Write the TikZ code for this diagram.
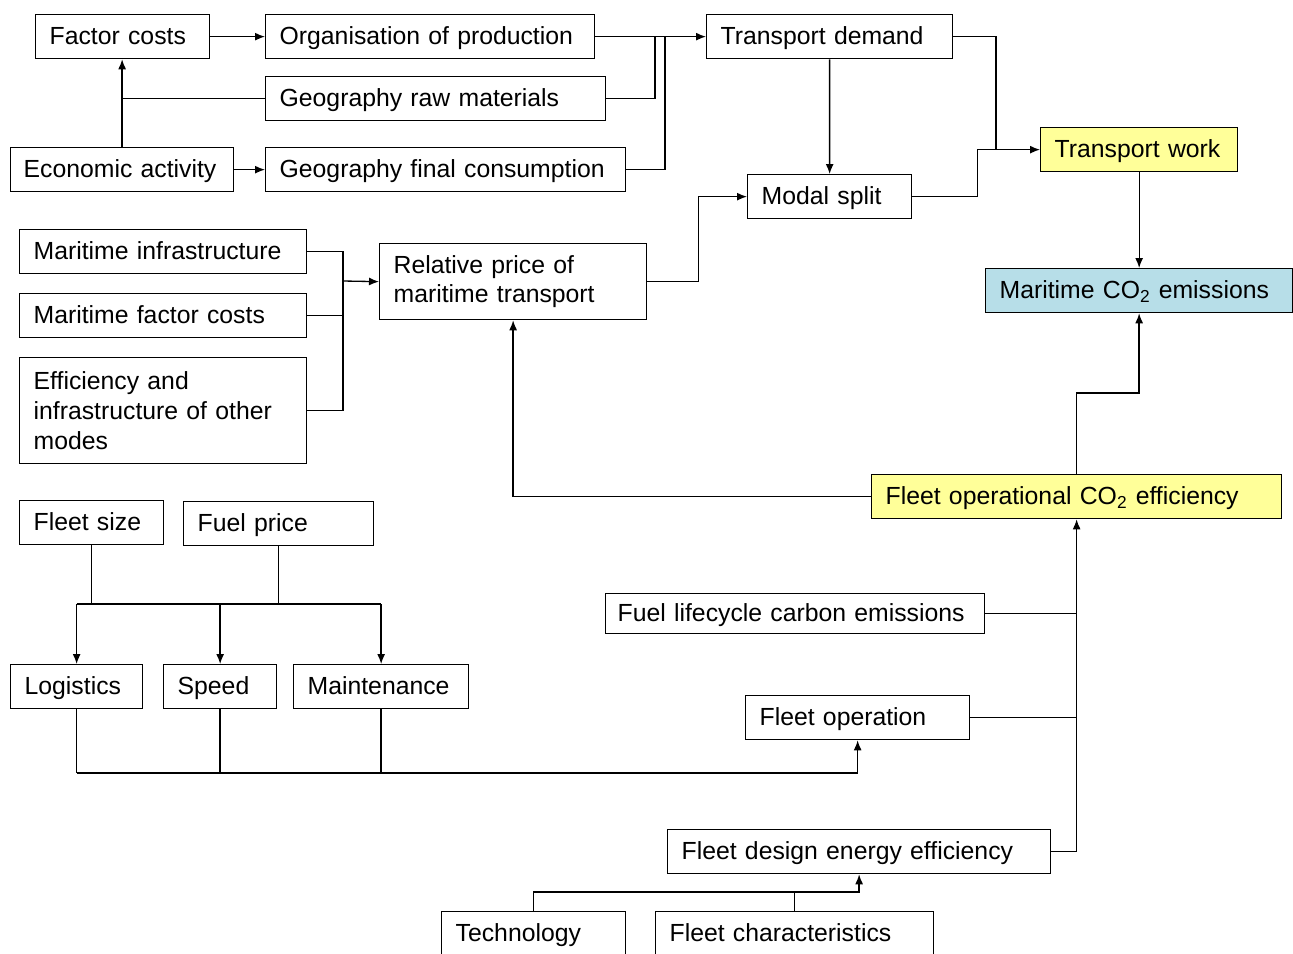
\documentclass[tikz,border=0pt]{standalone}
\usepackage{fontspec}
\setmainfont{Liberation Sans}
\usetikzlibrary{arrows.meta}
\definecolor{workyellow}{RGB}{255,255,153}
\definecolor{co2blue}{RGB}{183,222,232}
\hyphenpenalty=10000

\begin{document}
\begin{tikzpicture}[x=0.02cm,y=-0.02cm,>={Latex[length=2mm,width=1.6mm]},line width=0.75pt,
    box/.style={draw,anchor=north west,align=left,inner xsep=0.28cm,inner ysep=0pt,
      minimum height=0.88cm,text height=11.6pt,text depth=2.2pt,
      font=\fontsize{14.1pt}{17pt}\selectfont},
    multi/.style={text height={},text depth={}}]
  \useasboundingbox (0,0) rectangle (1293,953);
  % demand side
  \node[box,text width=2.92cm] (factor) at (35,14) {Factor costs};
  \node[box,text width=6.02cm] (org) at (265,14) {Organisation of production};
  \node[box,text width=6.24cm] (raw) at (265,76) {Geography raw materials};
  \node[box,text width=3.94cm,inner xsep=0.26cm] (econ) at (10,147) {Economic activity};
  \node[box,text width=6.64cm] (final) at (265,147) {Geography final consumption};
  \node[box,text width=4.36cm] (demand) at (706,14) {Transport demand};
  \node[box,fill=workyellow,text width=3.38cm] (work) at (1040,127) {Transport work};
  \node[box,text width=2.72cm] (modal) at (747,174) {Modal split};
  \node[box,fill=co2blue,text width=5.58cm] (mco2) at (985,268) {Maritime CO\textsubscript{2} emissions};
  % price side
  \node[box,text width=5.18cm] (infra) at (19,229) {Maritime infrastructure};
  \node[box,text width=5.18cm] (mfc) at (19,293) {Maritime factor costs};
  \node[box,multi,text width=5.18cm,minimum height=2.12cm] (eff) at (19,357)
        {Efficiency and\\infrastructure of other\\modes};
  \node[box,multi,text width=4.78cm,minimum height=1.52cm] (relprice) at (379,243)
        {Relative price of\\maritime transport};
  % efficiency side
  \node[box,fill=workyellow,text width=7.64cm] (fleetco2) at (871,474) {Fleet operational CO\textsubscript{2} efficiency};
  \node[box,text width=2.32cm] (fsize) at (19,500) {Fleet size};
  \node[box,text width=3.24cm] (fprice) at (183,501) {Fuel price};
  \node[box,text width=2.08cm] (logist) at (10,664) {Logistics};
  \node[box,text width=1.70cm] (speed) at (163,664) {Speed};
  \node[box,text width=2.94cm] (maint) at (293,664) {Maintenance};
  \node[box,text width=7.10cm,inner xsep=0.24cm,minimum height=0.8cm] (fuellc) at (605,593) {Fuel lifecycle carbon emissions};
  \node[box,text width=3.92cm] (fleetop) at (745,695) {Fleet operation};
  \node[box,text width=7.10cm] (design) at (667,829) {Fleet design energy efficiency};
  \node[box,text width=3.12cm] (tech) at (441,911) {Technology};
  \node[box,text width=5.00cm] (fchar) at (655,911) {Fleet characteristics};

  \coordinate (j1) at (655,36);
  \coordinate (j2) at (665,36);
  \coordinate (jw) at (996,149);
  \coordinate (jm) at (343,281);
  \coordinate (busA) at (0,604);
  \coordinate (busB) at (0,773);
  \coordinate (busC) at (0,892);

  \draw[->] (factor) -- (org);
  \draw[->] (econ) -- (final);
  \draw[->] (econ.north) -- (econ.north |- factor.south);
  \draw (raw.west) -- (raw.west -| econ.north);
  \draw[->] (org) -- (demand);
  \draw (raw.east) -| (j1);
  \draw (final.east) -| (j2);
  \draw[->] (demand) -- (modal);
  \draw (demand.east) -| (jw);
  \draw[->] (modal.east) -- ++(65,0) |- (work.west);
  \draw[->] (work.south) -- (work.south |- mco2.north);

  \draw (infra.east) -| (jm);
  \draw (mfc.east) -| (jm);
  \draw (eff.east) -| (jm);
  \draw[->] (jm) -- (relprice.west);
  \draw[->] (relprice.east) -- ++(51,0) |- (modal.west);

  \draw[->] (fleetco2.west) -| (relprice.south);
  \draw[->] (fleetco2.north) -- ++(0,-81) -| (mco2.south);
  \draw[->] (design.east) -| (fleetco2.south);
  \draw (fuellc.east) -- (fuellc.east -| fleetco2.south);
  \draw (fleetop.east) -- (fleetop.east -| fleetco2.south);

  \draw (fsize.south) -- (fsize.south |- busA);
  \draw (fprice.south) -- (fprice.south |- busA);
  \draw (logist.north |- busA) -- (maint.north |- busA);
  \foreach \n in {logist,speed,maint}
    \draw[->] (\n.north |- busA) -- (\n.north);
  \foreach \n in {logist,speed,maint}
    \draw (\n.south) -- (\n.south |- busB);
  \draw[->] (logist.south |- busB) -| (fleetop.south);

  \draw[->] (tech.north) |- (busC -| design.south) -- (design.south);
  \draw (fchar.north) -- (fchar.north |- busC);
\end{tikzpicture}
\end{document}
